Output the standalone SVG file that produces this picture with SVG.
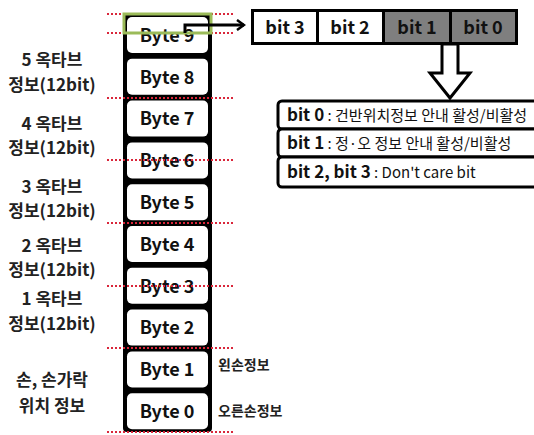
<svg xmlns="http://www.w3.org/2000/svg" width="534" height="435" viewBox="0 0 534 435">
<style>
.lbl{font-family:"Noto Sans CJK KR","Liberation Sans",sans-serif;font-size:17px;font-weight:bold;fill:#222;text-anchor:middle}
.byte{font-family:"Noto Sans CJK KR","Liberation Sans",sans-serif;font-size:18px;font-weight:bold;fill:#111;text-anchor:middle}
.box{fill:#fff;stroke:none}
.dot{stroke:#d9263a;stroke-width:2;stroke-dasharray:2 2;fill:none}
.bit{font-family:"Noto Sans CJK KR","Liberation Sans",sans-serif;font-size:18px;font-weight:bold;fill:#111;text-anchor:middle}
.info{font-family:"Noto Sans CJK KR","Liberation Sans",sans-serif;font-size:15px;fill:#111}
.infob{font-size:17px;font-weight:bold}
.side{font-family:"Noto Sans CJK KR","Liberation Sans",sans-serif;font-size:14px;font-weight:bold;fill:#222}
</style>
<defs>
<marker id="ah" markerWidth="10" markerHeight="12" refX="8" refY="6" orient="auto" markerUnits="userSpaceOnUse">
<path d="M1,1 L8,6 L1,11" fill="none" stroke="#000" stroke-width="2.5"/>
</marker>
</defs>
<rect width="534" height="435" fill="#fff"/>

<g id="labels">
<text class="lbl" x="52" y="66">5 옥타브</text>
<text class="lbl" x="52" y="91">정보(12bit)</text>
<text class="lbl" x="52" y="130">4 옥타브</text>
<text class="lbl" x="52" y="154">정보(12bit)</text>
<text class="lbl" x="52" y="193">3 옥타브</text>
<text class="lbl" x="52" y="217">정보(12bit)</text>
<text class="lbl" x="52" y="252">2 옥타브</text>
<text class="lbl" x="52" y="276">정보(12bit)</text>
<text class="lbl" x="52" y="305">1 옥타브</text>
<text class="lbl" x="52" y="330">정보(12bit)</text>
<text class="lbl" x="52" y="386">손, 손가락</text>
<text class="lbl" x="52" y="412">위치 정보</text>
</g>

<g id="bytes">
<rect x="123" y="14" width="89" height="418" rx="4" fill="#000"/>
<rect class="box" x="127" y="17" width="81" height="36" rx="5"/>
<rect class="box" x="127" y="58.8" width="81" height="36" rx="5"/>
<rect class="box" x="127" y="100.6" width="81" height="36" rx="5"/>
<rect class="box" x="127" y="142.4" width="81" height="36" rx="5"/>
<rect class="box" x="127" y="184.2" width="81" height="36" rx="5"/>
<rect class="box" x="127" y="226" width="81" height="36" rx="5"/>
<rect class="box" x="127" y="267.8" width="81" height="36" rx="5"/>
<rect class="box" x="127" y="309.6" width="81" height="36" rx="5"/>
<rect class="box" x="127" y="351.4" width="81" height="36" rx="5"/>
<rect class="box" x="127" y="393.2" width="81" height="36" rx="5"/>
<text class="byte" x="167" y="42">Byte 9</text>
<text class="byte" x="167" y="83.5">Byte 8</text>
<text class="byte" x="167" y="125.3">Byte 7</text>
<text class="byte" x="167" y="167.1">Byte 6</text>
<text class="byte" x="167" y="208.9">Byte 5</text>
<text class="byte" x="167" y="250.7">Byte 4</text>
<text class="byte" x="167" y="292.5">Byte 3</text>
<text class="byte" x="167" y="334.3">Byte 2</text>
<text class="byte" x="167" y="376.1">Byte 1</text>
<text class="byte" x="167" y="417.9">Byte 0</text>
</g>

<g id="dividers">
<line class="dot" x1="107" y1="14" x2="233" y2="14"/>
<line class="dot" x1="107" y1="33" x2="233" y2="33"/>
<line class="dot" x1="107" y1="98" x2="233" y2="98"/>
<line class="dot" x1="107" y1="160" x2="233" y2="160"/>
<line class="dot" x1="107" y1="223" x2="233" y2="223"/>
<line class="dot" x1="107" y1="286" x2="233" y2="286"/>
<line class="dot" x1="107" y1="348" x2="233" y2="348"/>
<line class="dot" x1="107" y1="432" x2="233" y2="432"/>
</g>

<g id="highlight">
<rect x="124" y="14" width="87" height="19" fill="none" stroke="#9bbb59" stroke-width="3"/>
</g>

<g id="side-labels">
<text class="side" x="218" y="370">왼손정보</text>
<text class="side" x="218" y="416">오른손정보</text>
</g>

<g id="bit-table">
<rect x="251" y="9" width="267" height="36" fill="#000"/>
<rect x="254" y="12" width="62" height="30" fill="#fff"/>
<rect x="319" y="12" width="63" height="30" fill="#fff"/>
<rect x="385" y="12" width="64" height="30" fill="#7f7f7f"/>
<rect x="452" y="12" width="63" height="30" fill="#7f7f7f"/>
<text class="bit" x="285" y="34">bit 3</text>
<text class="bit" x="350" y="34">bit 2</text>
<text class="bit" x="417" y="34">bit 1</text>
<text class="bit" x="483" y="34">bit 0</text>
</g>

<g id="info-box">
<rect x="278" y="101" width="270" height="28" rx="4" fill="#fff" stroke="#000" stroke-width="3"/>
<rect x="278" y="129" width="270" height="28" rx="4" fill="#fff" stroke="#000" stroke-width="3"/>
<rect x="278" y="157" width="270" height="30" rx="4" fill="#fff" stroke="#000" stroke-width="3"/>
<text class="info" x="287" y="121"><tspan class="infob">bit 0</tspan> : 건반위치정보 안내 활성/비활성</text>
<text class="info" x="287" y="149"><tspan class="infob">bit 1</tspan> : 정·오 정보 안내 활성/비활성</text>
<text class="info" x="287" y="178"><tspan class="infob">bit 2, bit 3</tspan> : Don't care bit</text>
</g>

<g id="connectors">
<polyline points="185,33 185,25 244,25" fill="none" stroke="#000" stroke-width="3" marker-end="url(#ah)"/>
<polygon points="442,44 458,44 458,73 470,73 450,98 430,73 442,73" fill="#fff" stroke="#000" stroke-width="3" stroke-linejoin="miter"/>
</g>
</svg>
